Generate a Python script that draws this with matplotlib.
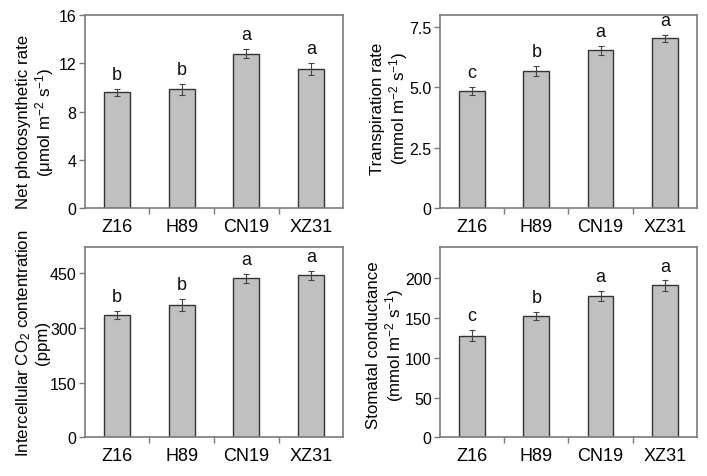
import numpy as np
import matplotlib
matplotlib.use("Agg")
import matplotlib.pyplot as plt
from matplotlib.ticker import FixedLocator

plt.rcParams['font.family'] = ['Liberation Sans', 'DejaVu Sans']
plt.rcParams['mathtext.fontset'] = 'custom'
plt.rcParams['mathtext.rm'] = 'Liberation Sans'
plt.rcParams['mathtext.it'] = 'Liberation Sans'
plt.rcParams['mathtext.default'] = 'regular'

# ------------------------------------------------------------
# Data
# ------------------------------------------------------------
cultivars = ['Z16', 'H89', 'CN19', 'XZ31']

pn_mean = [9.6, 9.85, 12.8, 11.5]
pn_err = [0.3, 0.45, 0.35, 0.5]
pn_sig = ['b', 'b', 'a', 'a']

tr_mean = [4.86, 5.67, 6.53, 7.03]
tr_err = [0.17, 0.2, 0.17, 0.15]
tr_sig = ['c', 'b', 'a', 'a']

ci_mean = [335, 362, 435, 444]
ci_err = [12, 16, 12, 12]
ci_sig = ['b', 'b', 'a', 'a']

gs_mean = [128, 153, 178, 191]
gs_err = [7, 5, 6, 6.5]
gs_sig = ['c', 'b', 'a', 'a']

# ------------------------------------------------------------
# Figure
# ------------------------------------------------------------
fig = plt.figure(figsize=(7.07, 4.77), dpi=100)

# rect, means, errs, letters, ylim, yticks, yticklabels, ylabel, letter gap, label pos
panels = [
    ([0.1202, 0.5618, 0.365, 0.4046], pn_mean, pn_err, pn_sig, (0, 16), [0, 4, 8, 12, 16],
     ['0', '4', '8', '12', '16'],
     'Net photosynthetic rate\n(μmol m$^{-2}$ s$^{-1}$)', 0.5, (-0.19, 0.45)),
    ([0.6223, 0.5618, 0.3635, 0.4046], tr_mean, tr_err, tr_sig, (0, 8), [0, 2.5, 5, 7.5],
     ['0', '2.5', '5.0', '7.5'],
     'Transpiration rate\n(mmol m$^{-2}$ s$^{-1}$)', 0.25, (-0.195, 0.52)),
    ([0.1202, 0.0811, 0.365, 0.3996], ci_mean, ci_err, ci_sig, (0, 522), [0, 150, 300, 450],
     ['0', '150', '300', '450'],
     'Intercellular CO$_2$ contentration\n(ppm)', 16, (-0.205, 0.5)),
    ([0.6223, 0.0811, 0.3635, 0.3984], gs_mean, gs_err, gs_sig, (0, 239), [0, 50, 100, 150, 200],
     ['0', '50', '100', '150', '200'],
     'Stomatal conductance\n(mmol m$^{-2}$ s$^{-1}$)', 7, (-0.21, 0.49)),
]

x = np.arange(len(cultivars))
spine_col = '#7a7a7a'

for rect, means, errs, sig, ylim, yt, ytl, ylab, pad, lpos in panels:
    ax = fig.add_axes(rect)
    ax.bar(x, means, width=0.4, color='#c0c0c0', edgecolor='#333333', linewidth=1.0, zorder=2)
    ax.errorbar(x, means, yerr=errs, fmt='none', ecolor='#444444', elinewidth=0.8,
                capsize=2.5, capthick=0.8, zorder=3)
    for xi, m, e, s in zip(x, means, errs, sig):
        ax.text(xi, m + e + pad, s, ha='center', va='bottom', fontsize=13, color='#111111')

    ax.set_xlim(-0.5, 3.5)
    ax.set_ylim(*ylim)
    ax.set_yticks(yt)
    ax.set_yticklabels(ytl)
    ax.set_xticks(x)
    ax.set_xticklabels(cultivars)
    ax.xaxis.set_minor_locator(FixedLocator([0.5, 1.5, 2.5]))
    ax.tick_params(axis='x', which='major', length=0, labelsize=13, pad=7)
    ax.tick_params(axis='x', which='minor', length=4, width=1, color=spine_col, direction='out')
    ax.tick_params(axis='y', length=4, width=1, color=spine_col, direction='out', labelsize=11.5, pad=2)
    for sp in ax.spines.values():
        sp.set_color(spine_col)
        sp.set_linewidth(1.2)
    ax.set_ylabel(ylab, fontsize=12.2, linespacing=1.1, va='center')
    ax.yaxis.set_label_coords(*lpos)

fig.savefig('out.png', dpi=100)
